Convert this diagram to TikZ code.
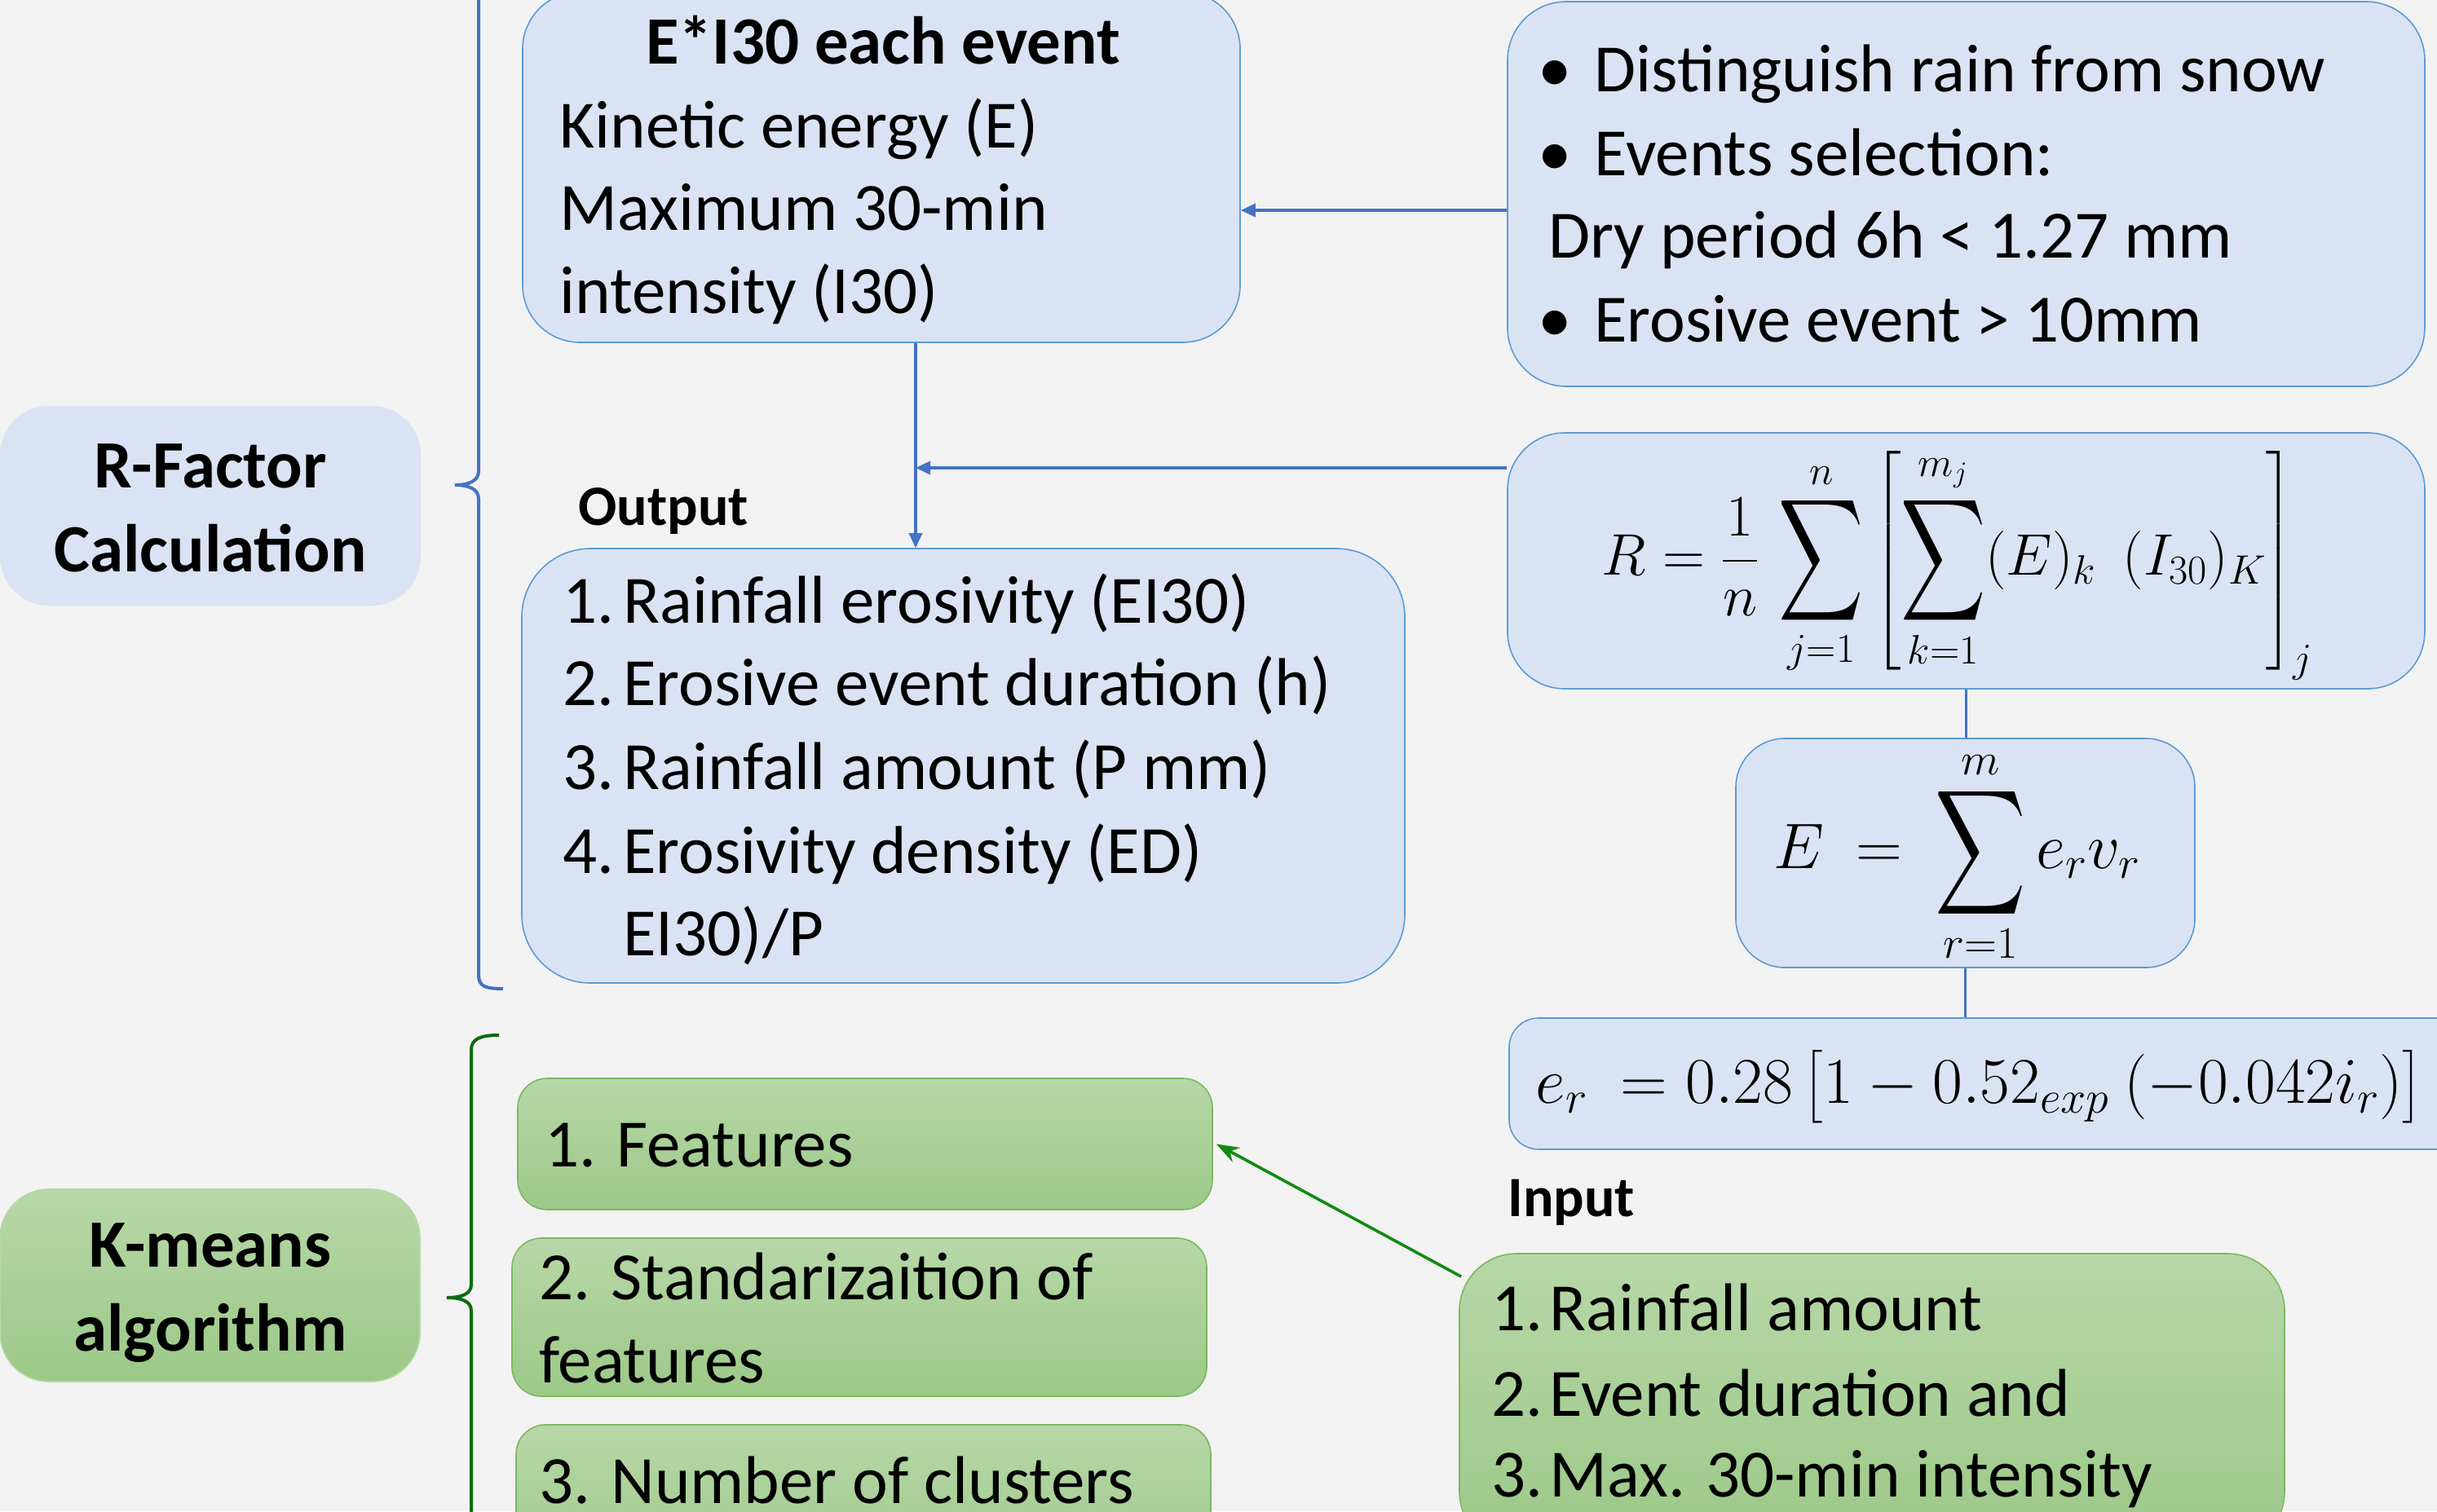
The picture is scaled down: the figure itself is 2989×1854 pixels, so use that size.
\RequirePackage{fix-cm}
\documentclass[tikz,border=0pt]{standalone}
\usepackage{amsmath}
\usepackage{graphicx}
\usepackage[no-math]{fontspec}
\setmainfont{Carlito}
\usetikzlibrary{arrows.meta,calc}
\definecolor{bgc}{HTML}{F2F2F2}
\definecolor{bfill}{HTML}{DAE3F3}
\definecolor{bline}{HTML}{5B9BD5}
\definecolor{conn}{HTML}{4472C4}
\definecolor{gtop}{HTML}{B7D7A8}
\definecolor{gbot}{HTML}{9CC987}
\definecolor{gline}{HTML}{7CB860}
\definecolor{garrow}{HTML}{138A13}
\definecolor{gbrace}{HTML}{0B6B12}
\newcommand{\Bsum}[2]{\mathop{\vcenter{\hbox{\scalebox{#1}[#2]{$\displaystyle\sum$}}}}\limits}
\begin{document}
\begin{tikzpicture}[x=0.5pt,y=-0.5pt,
  bluebox/.style={draw=bline,line width=0.8pt,fill=bfill,inner sep=0pt},
  greenbox/.style={draw=gline,line width=0.8pt,top color=gtop,bottom color=gbot,inner sep=0pt},
  txt/.style={font=\fontsize{41.5}{50}\selectfont,inner sep=0pt,anchor=base west},
  btxt/.style={font=\fontsize{41.5}{50}\selectfont\bfseries,inner sep=0pt,anchor=base},
  lbl/.style={font=\fontsize{35}{42}\selectfont\bfseries,inner sep=0pt,anchor=base west},
  mth/.style={inner sep=0pt,anchor=center},
  bconn/.style={draw=conn,line width=1.8pt},
  barrow/.style={bconn,-{Triangle[length=9pt,width=8pt]}},
  garr/.style={draw=garrow,line width=1.8pt,-{Stealth[length=14pt,width=10pt]}},
]
\path[use as bounding box] (0,0) rectangle (2989,1854);
\clip (0,0) rectangle (2989,1854);
\fill[bgc] (0,0) rectangle (2989,1854);

% braces
\draw[conn,line width=2pt] (587,-30) -- (587,578)
  .. controls (587,590) and (575,595) .. (558,595)
  .. controls (575,595) and (587,600) .. (587,612)
  -- (587,1196) .. controls (587,1210) and (595,1213) .. (617,1213);
\draw[gbrace,line width=2pt] (612,1270) .. controls (590,1270) and (578,1274) .. (578,1288)
  -- (578,1576) .. controls (578,1588) and (565,1592) .. (548,1592)
  .. controls (565,1592) and (578,1596) .. (578,1608) -- (578,1900);

% boxes
\node[bluebox,draw=none,minimum width=258pt,minimum height=122.5pt,rounded corners=30pt] (rf) at (258,620.5) {};
\node[bluebox,minimum width=440pt,minimum height=215pt,rounded corners=35pt] (ei) at (1081,205) {};
\node[bluebox,minimum width=562.5pt,minimum height=236pt,rounded corners=36pt] (sel) at (2411.5,238) {};
\node[bluebox,minimum width=562.5pt,minimum height=157pt,rounded corners=35pt] (rform) at (2411.5,688) {};
\node[bluebox,minimum width=541.5pt,minimum height=266.5pt,rounded corners=42pt] (out) at (1181.5,939.5) {};
\node[bluebox,minimum width=281.5pt,minimum height=140.5pt,rounded corners=30pt] (ebox) at (2410.5,1046.5) {};
\node[bluebox,minimum width=594.5pt,minimum height=80.5pt,rounded corners=18pt] (erbox) at (2445.5,1329.5) {};
\node[greenbox,minimum width=506pt,minimum height=181pt,rounded corners=35pt] (inb) at (2296,1719) {};
\node[greenbox,draw=gtop,minimum width=257.5pt,minimum height=118pt,rounded corners=30pt] (kb) at (257.5,1577) {};
\node[greenbox,minimum width=426pt,minimum height=80.5pt,rounded corners=18pt] (f1) at (1061,1403.5) {};
\node[greenbox,minimum width=426pt,minimum height=97pt,rounded corners=18pt] (f2) at (1054,1616) {};
\node[greenbox,minimum width=426pt,minimum height=101pt,rounded corners=18pt] (f3) at (1059,1849) {};

% connectors
\coordinate (vx) at ([xshift=21pt]ei.south);
\coordinate (s1) at ([yshift=-10pt]sel.west);
\coordinate (r1) at ([yshift=57pt]rform.west);
\draw[barrow] (s1) -- (s1 -| ei.east);
\draw[barrow] (vx) -- (vx |- out.north);
\draw[barrow] (r1) -- (r1 -| vx);
\draw[bconn] (rform.south) -- (rform.south |- ebox.north);
\draw[bconn] (ebox.south) -- (ebox.south |- erbox.north);
\coordinate (g1) at ([xshift=1.5pt,yshift=-14.5pt]inb.north west);
\draw[garr] (g1) -- ([xshift=2pt]f1.east);

% texts
\node[btxt] (t-rf1) at (258,598) {R-Factor};
\node[btxt] (t-rf2) at (258,701) {Calculation};
\node[btxt] (t-km1) at (258,1554) {K-means};
\node[btxt] (t-km2) at (258,1657) {algorithm};

\node[btxt] (t-ei0) at (1083,78) {E*I30 each event};
\node[txt] (t-ei1) at (686,181) {Kinetic energy (E)};
\node[txt] (t-ei2) at (686,282) {Maximum 30-min};
\node[txt] (t-ei3) at (686,384) {intensity (I30)};

\node[txt] (b1) at (1886,112) {•};
\node[txt] (t-s1) at (1955,112) {Distinguish rain from snow};
\node[txt] (b2) at (1886,215) {•};
\node[txt] (t-s2) at (1955,215) {Events selection:};
\node[txt] (t-s3) at (1899,316) {Dry period 6h < 1.27 mm};
\node[txt] (b4) at (1886,419) {•};
\node[txt] (t-s4) at (1955,419) {Erosive event > 10mm};

\node[lbl] (t-out) at (709,644) {Output};
\node[txt] (n-o1) at (690,764) {1.};
\node[txt] (t-o1) at (764,764) {Rainfall erosivity (EI30)};
\node[txt] (n-o2) at (690,865) {2.};
\node[txt] (t-o2) at (764,865) {Erosive event duration (h)};
\node[txt] (n-o3) at (690,968) {3.};
\node[txt] (t-o3) at (764,968) {Rainfall amount (P mm)};
\node[txt] (n-o4) at (690,1071) {4.};
\node[txt] (t-o4) at (764,1071) {Erosivity density (ED)};
\node[txt] (t-o5) at (764,1172) {EI30)/P};

\node[lbl] (t-in) at (1849,1492) {Input};
\node[txt] (n-i1) at (1829,1632) {1.};
\node[txt] (t-i1) at (1900,1632) {Rainfall amount};
\node[txt] (n-i2) at (1829,1737) {2.};
\node[txt] (t-i2) at (1900,1737) {Event duration and};
\node[txt] (n-i3) at (1829,1836) {3.};
\node[txt] (t-i3) at (1900,1836) {Max. 30-min intensity};

\node[txt] (t-f1) at (668,1431) {1. Features};
\node[txt] (t-f2) at (661,1594) {2. Standarizaition of};
\node[txt] (t-f2b) at (661,1696) {features};
\node[txt] (t-f3) at (661,1844) {3. Number of clusters};

% formulas
\node[mth,font=\fontsize{36}{40}\selectfont] (m-r) at (2401,694)
  {$\displaystyle R = \frac{1}{n}\,\Bsum{1.45}{2.1}_{j=1}^{n}\left[\Bsum{1.45}{2.1}_{k=1}^{m_j}(E)_k\ \ (I_{30})_K\right]_j$};
\node[mth,font=\fontsize{39.5}{44}\selectfont] (m-e) at (2400,1051)
  {$\displaystyle E\ =\ \Bsum{1.55}{2.15}_{r=1}^{m} e_r v_r$};
\node[mth,font=\fontsize{40}{44}\selectfont] (m-er) at (2427,1333)
  {$e_r\ = 0.28\,\big[1 - 0.52_{exp}\ (-0.042 i_r)\big]$};
\end{tikzpicture}
\end{document}
